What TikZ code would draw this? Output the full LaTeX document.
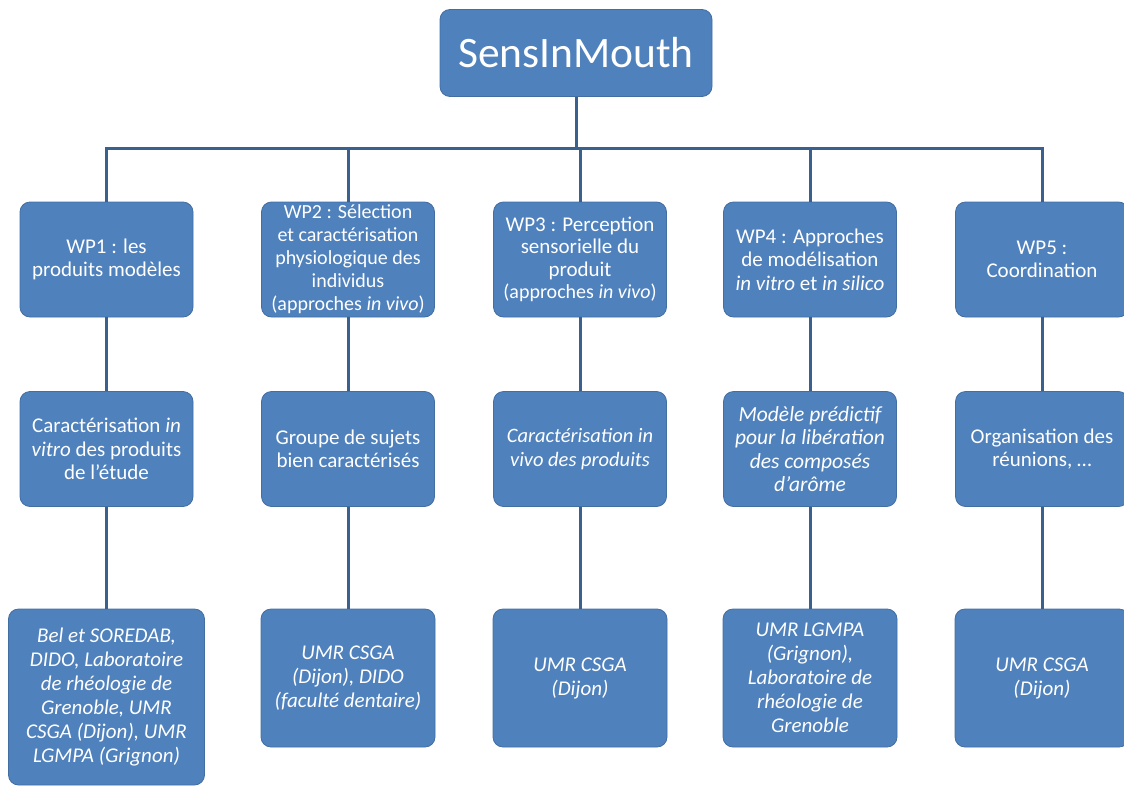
\documentclass[tikz,border=0pt]{standalone}
\usepackage{fontspec}
\setmainfont{Carlito}
\definecolor{boxblue}{RGB}{79,129,189}
\definecolor{linkblue}{RGB}{58,96,142}

\begin{document}
\begin{tikzpicture}[x=1pt,y=-1pt,
	wp/.style={draw=boxblue!85!black,line width=0.8pt,fill=boxblue,rounded corners=10pt,text=white,align=center,inner sep=0,minimum width=173pt,minimum height=115pt,font=\fontsize{21}{23.5}\selectfont},
	lab/.style={wp,minimum width=174pt,minimum height=138pt,font=\fontsize{21}{24}\selectfont\itshape},
	link/.style={draw=linkblue,line width=3pt}]
	\useasboundingbox (0,0) rectangle (1124,787);
	\node[wp,minimum width=272pt,minimum height=87pt,font=\fontsize{43.5}{48}\selectfont] (top) at (576,53) {SensInMouth};
	\node[wp] (wp1) at (106.5,259.5) {WP1 : les\\produits modèles};
	\node[wp,font=\fontsize{20}{23}\selectfont] (wp2) at (348,259.5) {WP2 : Sélection\\et caractérisation\\physiologique des\\individus\\(approches \textit{in vivo})};
	\node[wp,font=\fontsize{21}{22.5}\selectfont] (wp3) at (580,259.5) {WP3 : Perception\\sensorielle du\\produit\\{\fontsize{20}{22.5}\selectfont(approches \textit{in vivo})}};
	\node[wp] (wp4) at (810,259.5) {WP4 : Approches\\de modélisation\\\textit{in vitro} et \textit{in silico}};
	\node[wp] (wp5) at (1042,259.5) {WP5 :\\Coordination};
	\node[wp] (res1) at (106.5,449) {Caractérisation \textit{in}\\\textit{vitro} des produits\\de l’étude};
	\node[wp] (res2) at (348,449) {Groupe de sujets\\bien caractérisés};
	\node[wp,font=\fontsize{20.5}{23.5}\selectfont\itshape] (res3) at (580,449) {Caractérisation in\\vivo des produits};
	\node[wp,font=\fontsize{21.5}{23.5}\selectfont\itshape] (res4) at (810,449) {Modèle prédictif\\pour la libération\\des composés\\d’arôme};
	\node[wp] (res5) at (1042,449) {Organisation des\\réunions, …};
	\node[lab,minimum width=196pt,minimum height=176pt] (lab1) at (106.5,697) {Bel et SOREDAB,\\DIDO, Laboratoire\\de rhéologie de\\Grenoble, UMR\\CSGA (Dijon), UMR\\LGMPA (Grignon)};
	\node[lab] (lab2) at (348,678) {UMR CSGA\\(Dijon), DIDO\\(faculté dentaire)};
	\node[lab] (lab3) at (580,678) {UMR CSGA\\(Dijon)};
	\node[lab] (lab4) at (810,678) {UMR LGMPA\\(Grignon),\\Laboratoire de\\rhéologie de\\Grenoble};
	\node[lab] (lab5) at (1042,678) {UMR CSGA\\(Dijon)};
	\coordinate (bus) at (576,148);
	\draw[link] (top.south) -- (bus);
	\draw[link] (wp1.north) |- (bus) -| (wp5.north);
	\foreach \n in {2,3,4}
		\draw[link] (wp\n.north) -- (wp\n.north |- bus);
	\foreach \n in {1,...,5} {
		\draw[link] (wp\n.south) -- (res\n.north);
		\draw[link] (res\n.south) -- (lab\n.north);
	}
\end{tikzpicture}
\end{document}
